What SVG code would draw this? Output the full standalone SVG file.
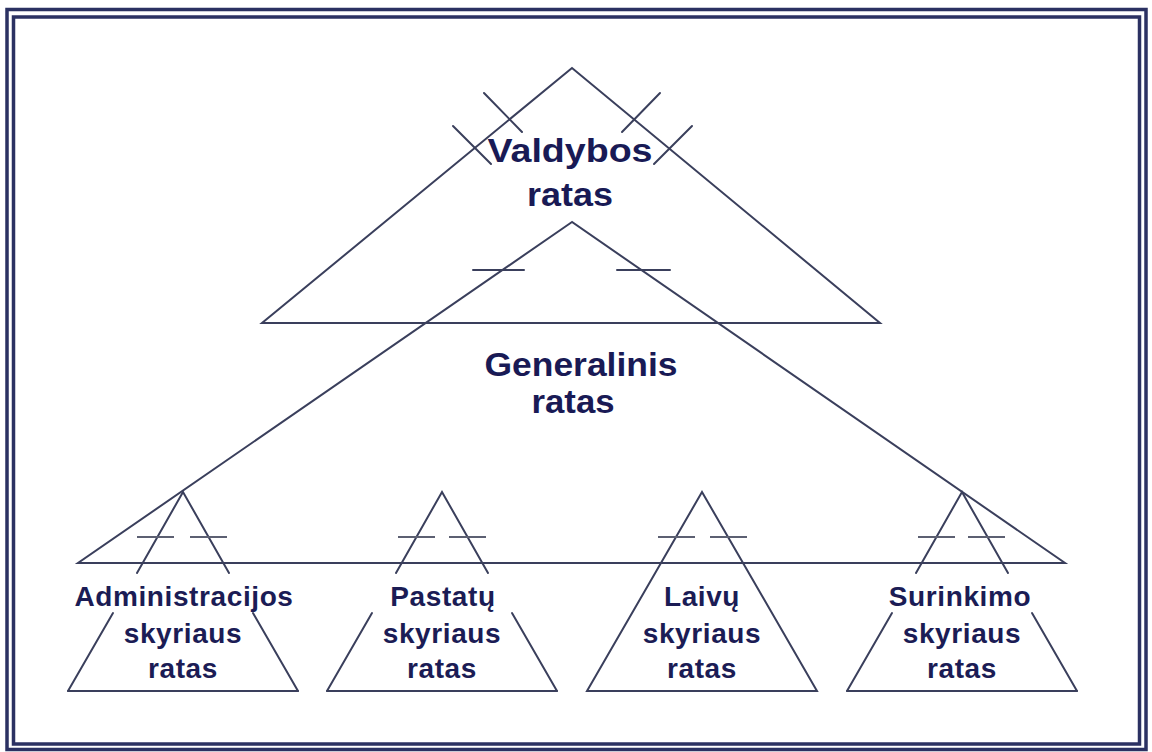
<svg xmlns="http://www.w3.org/2000/svg" width="1152" height="752" viewBox="0 0 1152 752">
<style>
.frame{fill:none;stroke:#2b3162;stroke-width:3.5}
.ln{fill:none;stroke:#3a3f5c;stroke-width:2;stroke-linecap:round}
.dash{fill:none;stroke:#5c6072;stroke-width:2}
.big{font-family:"Liberation Sans",Arial,sans-serif;font-weight:bold;font-size:34px;fill:#191a55;text-anchor:middle}
.sm{font-family:"Liberation Sans",Arial,sans-serif;font-weight:bold;font-size:28px;fill:#1b1c55;text-anchor:middle;letter-spacing:0.6px}
</style>
<rect width="1152" height="752" fill="#ffffff"/>
<rect class="frame" x="7" y="9.5" width="1139" height="740"/>
<rect class="frame" x="13.5" y="17" width="1126" height="727"/>

<g id="connectors">
  <polygon class="ln" points="572,68 262,323 880,323"/>
  <line class="ln" x1="484" y1="93" x2="522" y2="132"/>
  <line class="ln" x1="453" y1="126" x2="491" y2="164"/>
  <line class="ln" x1="660" y1="93" x2="622" y2="132"/>
  <line class="ln" x1="692" y1="126" x2="654" y2="164"/>
  <polygon class="ln" points="572,222 78,563 1065,563"/>
  <line class="ln" x1="473" y1="270" x2="524" y2="270"/>
  <line class="ln" x1="617" y1="270" x2="670" y2="270"/>
</g>

<g id="valdybos">
  <text class="big" x="570" y="162" textLength="165" lengthAdjust="spacingAndGlyphs">Valdybos</text>
  <text class="big" x="570" y="206" textLength="86" lengthAdjust="spacingAndGlyphs">ratas</text>
</g>

<g id="generalinis">
  <text class="big" x="581" y="376" textLength="193" lengthAdjust="spacingAndGlyphs">Generalinis</text>
  <text class="big" x="573" y="413" textLength="83" lengthAdjust="spacingAndGlyphs">ratas</text>
</g>

<g id="administracijos">
  <polyline class="ln" points="137,573 183,492 229,573"/>
  <line class="ln" x1="113" y1="613" x2="68" y2="691"/>
  <line class="ln" x1="253" y1="613" x2="298" y2="691"/>
  <line class="ln" x1="68" y1="691" x2="298" y2="691"/>
  <line class="dash" x1="137" y1="537" x2="174" y2="537"/>
  <line class="dash" x1="190" y1="537" x2="227" y2="537"/>
  <text class="sm" x="184" y="606">Administracijos</text>
  <text class="sm" x="183" y="643">skyriaus</text>
  <text class="sm" x="183" y="678">ratas</text>
</g>

<g id="pastatu">
  <polyline class="ln" points="396,573 442,492 488,573"/>
  <line class="ln" x1="372" y1="613" x2="327" y2="691"/>
  <line class="ln" x1="512" y1="613" x2="557" y2="691"/>
  <line class="ln" x1="327" y1="691" x2="557" y2="691"/>
  <line class="dash" x1="398" y1="537" x2="435" y2="537"/>
  <line class="dash" x1="449" y1="537" x2="486" y2="537"/>
  <text class="sm" x="443" y="606">Pastatų</text>
  <text class="sm" x="442" y="643">skyriaus</text>
  <text class="sm" x="442" y="678">ratas</text>
</g>

<g id="laivu">
  <polygon class="ln" points="702,492 587,691 817,691"/>
  <line class="dash" x1="658" y1="537" x2="695" y2="537"/>
  <line class="dash" x1="710" y1="537" x2="747" y2="537"/>
  <text class="sm" x="702" y="606">Laivų</text>
  <text class="sm" x="702" y="643">skyriaus</text>
  <text class="sm" x="702" y="678">ratas</text>
</g>

<g id="surinkimo">
  <polyline class="ln" points="916,573 962,492 1008,573"/>
  <line class="ln" x1="892" y1="613" x2="847" y2="691"/>
  <line class="ln" x1="1032" y1="613" x2="1077" y2="691"/>
  <line class="ln" x1="847" y1="691" x2="1077" y2="691"/>
  <line class="dash" x1="918" y1="537" x2="955" y2="537"/>
  <line class="dash" x1="968" y1="537" x2="1005" y2="537"/>
  <text class="sm" x="960" y="606">Surinkimo</text>
  <text class="sm" x="962" y="643">skyriaus</text>
  <text class="sm" x="962" y="678">ratas</text>
</g>
</svg>
